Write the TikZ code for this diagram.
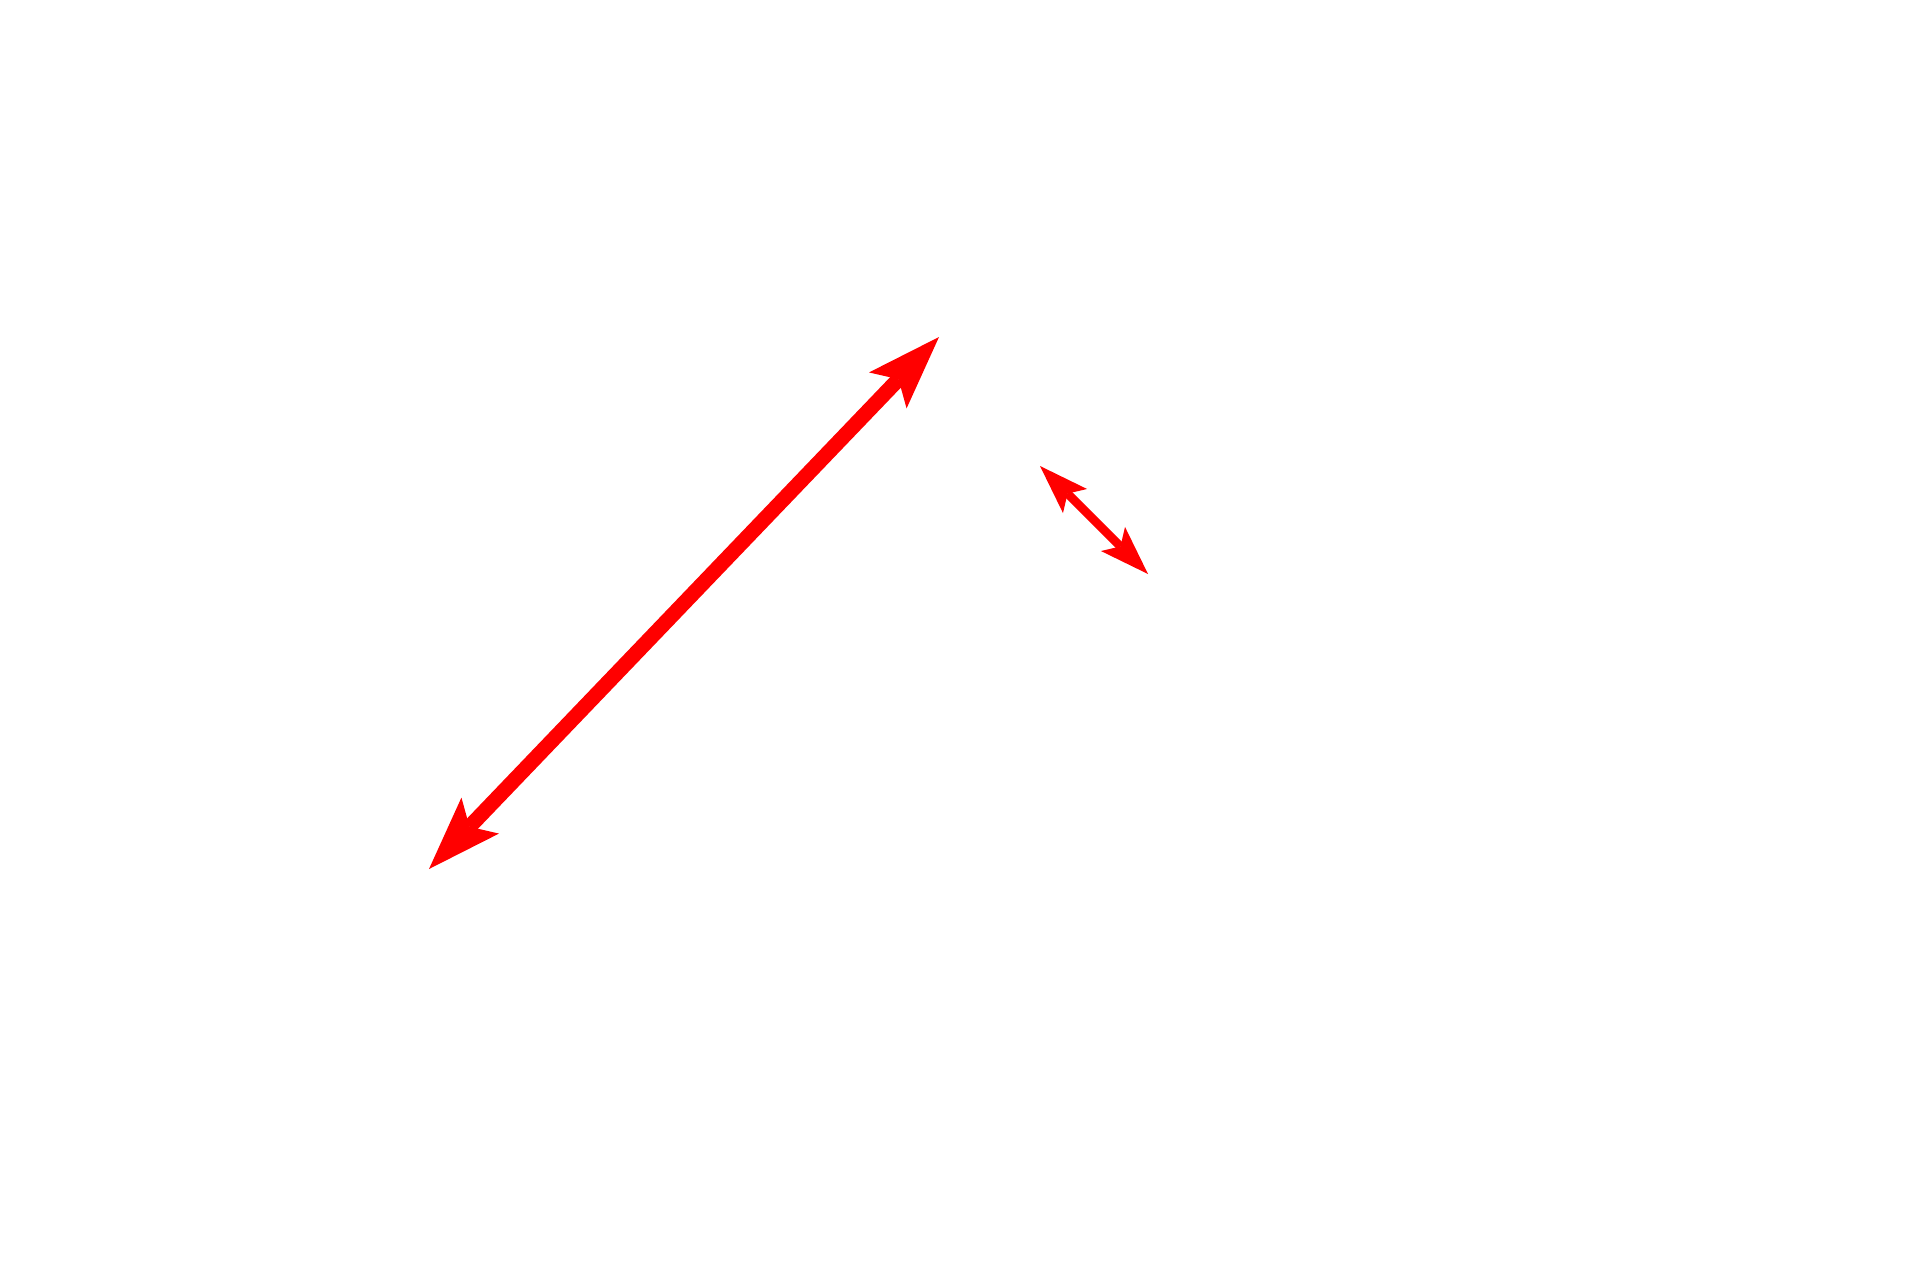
\documentclass[tikz,border=0pt]{standalone}
\usetikzlibrary{arrows.meta}
\definecolor{arrowred}{RGB}{255,0,0}
\tikzset{
  bigarrow/.style={draw=arrowred, line width=15pt,
    {Stealth[length=74pt,width=52pt,inset=15.5pt,line width=0pt]}-{Stealth[length=74pt,width=52pt,inset=15.5pt,line width=0pt]}},
  smallarrow/.style={draw=arrowred, line width=8.5pt,
    {Stealth[length=49.5pt,width=34pt,inset=10.5pt,line width=0pt]}-{Stealth[length=49.5pt,width=34pt,inset=10.5pt,line width=0pt]}}
}
\begin{document}
\begin{tikzpicture}[x=1pt,y=-1pt]
  \useasboundingbox (0,0) rectangle (1920,1280);
  \fill[white] (0,0) rectangle (1920,1280);
  \coordinate (a1) at (429,869);
  \coordinate (a2) at (939,337);
  \coordinate (b1) at (1040,466);
  \coordinate (b2) at (1148,574);
  \draw[bigarrow] (a1) -- (a2);
  \draw[smallarrow] (b1) -- (b2);
\end{tikzpicture}
\end{document}
